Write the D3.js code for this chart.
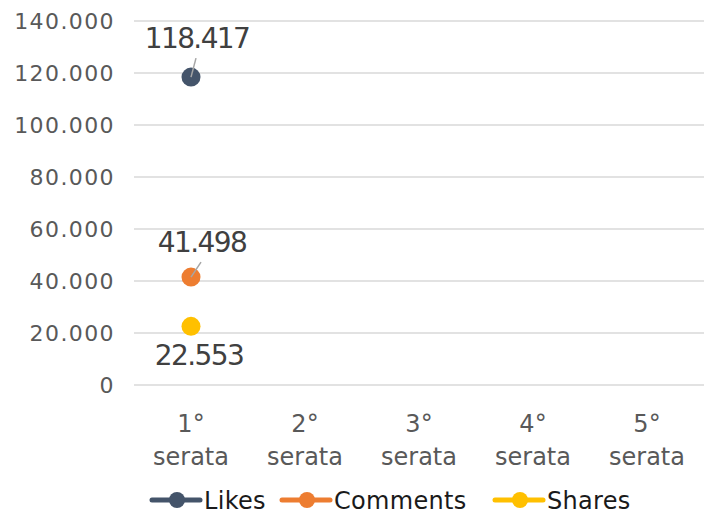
<!DOCTYPE html>
<html>
<head>
<meta charset="utf-8">
<script src="https://cdn.jsdelivr.net/npm/d3@7"></script>
<style>
  body { margin: 0; background: #fff; }
  svg text { font-family: "DejaVu Sans", sans-serif; }
</style>
</head>
<body>
<svg width="714" height="516"></svg>
<script>
(function(){
    'use strict';

    // data
    const categories = ['1°|serata', '2°|serata', '3°|serata', '4°|serata', '5°|serata'];
    const seriesNames = ['Likes', 'Comments', 'Shares'];
    const seriesColors = ['#44546A', '#ED7D31', '#FFC000'];
    const likes = [118417, null, null, null, null];
    const comments = [41498, null, null, null, null];
    const shares = [22553, null, null, null, null];
    const yTicks = [0, 20000, 40000, 60000, 80000, 100000, 120000, 140000];

    const series = [likes, comments, shares].map((vals, i) => ({
        name: seriesNames[i], color: seriesColors[i], values: vals
    }));

    const svg = d3.select('svg');
    const left = 134, right = 704, top = 21, bottom = 385;

    const x = d3.scaleBand().domain(categories).range([left, right]);
    const y = d3.scaleLinear().domain([0, 140000]).range([bottom, top]);

    const fmt = d3.formatLocale({ decimal: ',', thousands: '.', grouping: [3], currency: ['€', ''] }).format(',d');

    // gridlines
    svg.append('g')
        .selectAll('line')
        .data(yTicks)
        .join('line')
        .attr('x1', left).attr('x2', right)
        .attr('y1', d => y(d)).attr('y2', d => y(d))
        .style('stroke', '#d9d9d9')
        .style('stroke-width', 1.5);

    // y axis labels
    const yAxis = svg.append('g')
        .attr('transform', `translate(${left - 19},0)`)
        .call(d3.axisLeft(y).tickValues(yTicks).tickFormat(fmt).tickSize(0).tickPadding(0));
    yAxis.select('.domain').remove();
    yAxis.selectAll('text')
        .attr('dy', '0.36em')
        .style('font-size', '22px')
        .style('letter-spacing', '1.4px')
        .style('fill', '#595959');

    // x axis labels
    const xAxis = svg.append('g')
        .attr('transform', `translate(0,${bottom})`)
        .call(d3.axisBottom(x).tickSize(0).tickFormat(''));
    xAxis.select('.domain').remove();
    xAxis.selectAll('.tick').each(function(d) {
        const parts = d.split('|');
        const t = d3.select(this).append('text')
            .attr('text-anchor', 'middle')
            .style('fill', '#595959')
            .style('font-size', '24px');
        t.append('tspan').attr('x', 0).attr('y', 47).text(parts[0]);
        t.append('tspan').attr('x', 0).attr('y', 80).text(parts[1]);
    });

    // points
    const cx = d => x(d) + x.bandwidth() / 2;
    const pts = [];
    series.forEach(s => {
        s.values.forEach((v, i) => {
            if (v != null) pts.push({ s, v, cat: categories[i] });
        });
    });

    // label offsets relative to the marker
    const labelPos = {
        Likes: { dx: 6, dy: -29, lead: [5, -19] },
        Comments: { dx: 11, dy: -25, lead: [10, -15] },
        Shares: { dx: 8, dy: 39, lead: null }
    };

    svg.append('g')
        .selectAll('circle')
        .data(pts)
        .join('circle')
        .attr('cx', p => cx(p.cat))
        .attr('cy', p => y(p.v))
        .attr('r', 9.5)
        .style('fill', p => p.s.color);

    // leader lines
    svg.append('g')
        .selectAll('line')
        .data(pts.filter(p => labelPos[p.s.name].lead))
        .join('line')
        .attr('x1', p => cx(p.cat))
        .attr('y1', p => y(p.v))
        .attr('x2', p => cx(p.cat) + labelPos[p.s.name].lead[0])
        .attr('y2', p => y(p.v) + labelPos[p.s.name].lead[1])
        .style('stroke', '#a6a6a6')
        .style('stroke-width', 1.5);

    svg.append('g')
        .selectAll('text')
        .data(pts)
        .join('text')
        .attr('x', p => cx(p.cat) + labelPos[p.s.name].dx)
        .attr('y', p => y(p.v) + labelPos[p.s.name].dy)
        .attr('text-anchor', 'middle')
        .style('font-size', '28px')
        .style('letter-spacing', '-1.6px')
        .style('fill', '#404040')
        .text(p => fmt(p.v));

    // legend
    const legendX = [150, 280, 493];
    const lg = svg.append('g')
        .selectAll('g')
        .data(series)
        .join('g')
        .attr('transform', (d, i) => `translate(${legendX[i]},500)`);
    lg.append('line')
        .attr('x1', 2).attr('x2', 50)
        .style('stroke', d => d.color)
        .style('stroke-width', 5)
        .style('stroke-linecap', 'round');
    lg.append('circle')
        .attr('cx', 27).attr('r', 8)
        .style('fill', d => d.color);
    lg.append('text')
        .attr('x', 54).attr('y', 9)
        .style('font-size', '24px')
        .style('letter-spacing', '0.3px')
        .style('fill', '#1a1a1a')
        .text(d => d.name);
})();
</script>
</body>
</html>
